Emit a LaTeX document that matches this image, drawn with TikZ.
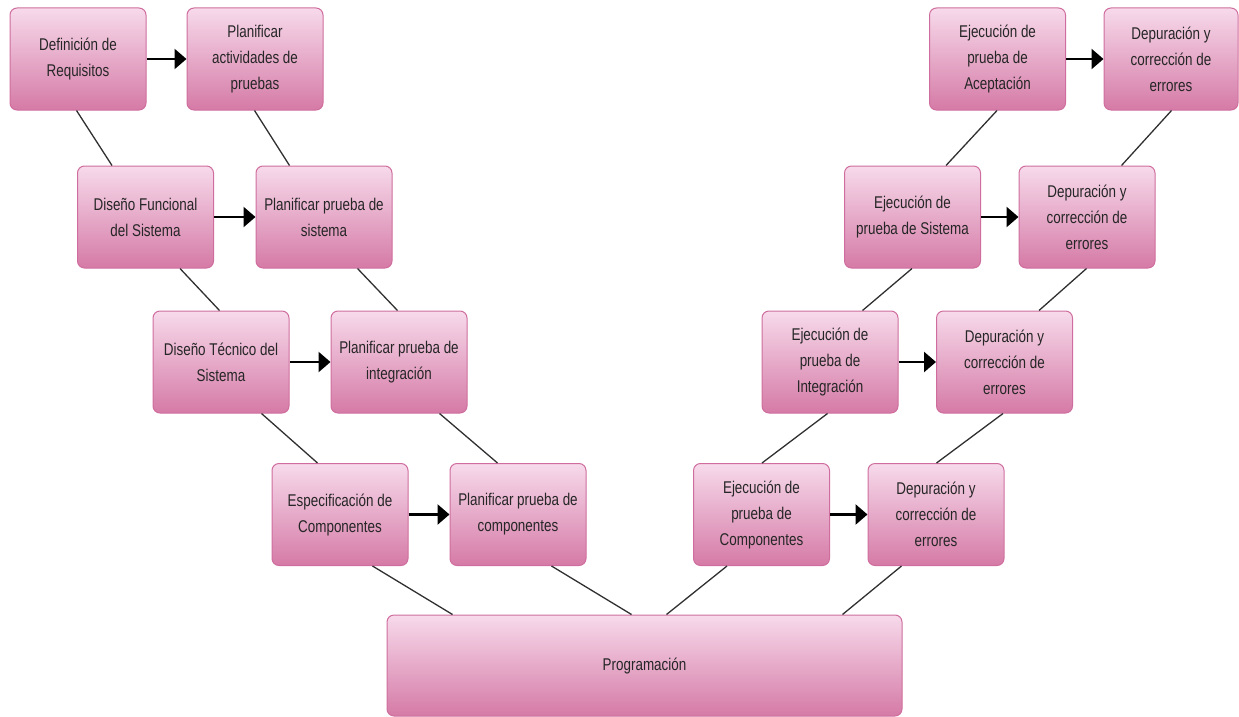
\documentclass[tikz,border=0pt]{standalone}
\usepackage{fontspec}
\setmainfont{Liberation Sans}[FakeStretch=0.79]
\usetikzlibrary{arrows.meta,calc}
\definecolor{boxtop}{HTML}{F7DAEB}
\definecolor{boxbot}{HTML}{D57AA6}
\definecolor{boxline}{HTML}{CF6E9E}
\definecolor{txt}{HTML}{262626}
\definecolor{linkc}{HTML}{303030}
\begin{document}
\begin{tikzpicture}[x=1pt,y=-1pt,
  stage/.style={draw=boxline, line width=1pt, rounded corners=7pt,
    top color=boxtop, bottom color=boxbot, text=txt, align=center,
    font=\fontsize{17}{26}\selectfont, inner sep=0pt,
    minimum width=136pt, minimum height=102pt},
  flow/.style={-{Triangle[length=12pt,width=20pt]}, line width=2.6pt, black},
  tie/.style={draw=linkc, line width=1.3pt}]
\useasboundingbox (0,0) rectangle (1239,717);

% left branch: design and test planning
\node[stage] (A1) at (78,59) {Definición de\\Requisitos};
\node[stage] (B1) at (255,59) {Planificar\\actividades de\\pruebas};
\node[stage] (A2) at (145.5,217) {Diseño Funcional\\del Sistema};
\node[stage] (B2) at (324,217) {Planificar prueba de\\sistema};
\node[stage] (A3) at (221,362) {Diseño Técnico del\\Sistema};
\node[stage] (B3) at (399,362) {Planificar prueba de\\integración};
\node[stage] (A4) at (340,514.5) {Especificación de\\Componentes};
\node[stage] (B4) at (518,514.5) {Planificar prueba de\\componentes};

% right branch: test execution and debugging
\node[stage] (C1) at (997.5,59) {Ejecución de\\prueba de\\Aceptación};
\node[stage, minimum width=134pt] (D1) at (1171,59) {Depuración y\\corrección de\\errores};
\node[stage] (C2) at (912.5,217) {Ejecución de\\prueba de Sistema};
\node[stage] (D2) at (1087,217) {Depuración y\\corrección de\\errores};
\node[stage] (C3) at (830,362) {Ejecución de\\prueba de\\Integración};
\node[stage] (D3) at (1004.5,362) {Depuración y\\corrección de\\errores};
\node[stage] (C4) at (761.5,514.5) {Ejecución de\\prueba de\\Componentes};
\node[stage] (D4) at (936,514.5) {Depuración y\\corrección de\\errores};

% bottom of the V
\node[stage, minimum width=515pt, minimum height=101pt] (P) at (644.5,665.5) {Programación};

% horizontal arrows
\foreach \a/\b in {A1/B1,A2/B2,A3/B3,A4/B4,C1/D1,C2/D2,C3/D3,C4/D4}
  \draw[flow] (\a.east) -- (\b.west);

% diagonal links, left side
\draw[tie] ($(A1.south west)+(67,0)$) -- ($(A2.north west)+(35,0)$);
\draw[tie] ($(B1.south west)+(68,0)$) -- ($(B2.north west)+(34,0)$);
\draw[tie] ($(A2.south west)+(103,0)$) -- ($(A3.north west)+(67,0)$);
\draw[tie] ($(B2.south west)+(102,0)$) -- ($(B3.north west)+(67,0)$);
\draw[tie] ($(A3.south west)+(109,0)$) -- ($(A4.north west)+(46,0)$);
\draw[tie] ($(B3.south west)+(109,0)$) -- ($(B4.north west)+(48,0)$);
\draw[tie] ($(A4.south west)+(101,0)$) -- ($(P.north west)+(66,0)$);
\draw[tie] ($(B4.south west)+(102,0)$) -- ($(P.north west)+(245,0)$);

% diagonal links, right side
\draw[tie] ($(C1.south west)+(68,0)$) -- ($(C2.north west)+(102,0)$);
\draw[tie] ($(D1.south west)+(68,0)$) -- ($(D2.north west)+(103,0)$);
\draw[tie] ($(C2.south west)+(68,0)$) -- ($(C3.north west)+(101,0)$);
\draw[tie] ($(D2.south west)+(68,0)$) -- ($(D3.north west)+(103,0)$);
\draw[tie] ($(C3.south west)+(66,0)$) -- ($(C4.north west)+(69,0)$);
\draw[tie] ($(D3.south west)+(67,0)$) -- ($(D4.north west)+(69,0)$);
\draw[tie] ($(C4.south west)+(34,0)$) -- ($(P.north west)+(280,0)$);
\draw[tie] ($(D4.south west)+(34,0)$) -- ($(P.north west)+(456,0)$);
\end{tikzpicture}
\end{document}
